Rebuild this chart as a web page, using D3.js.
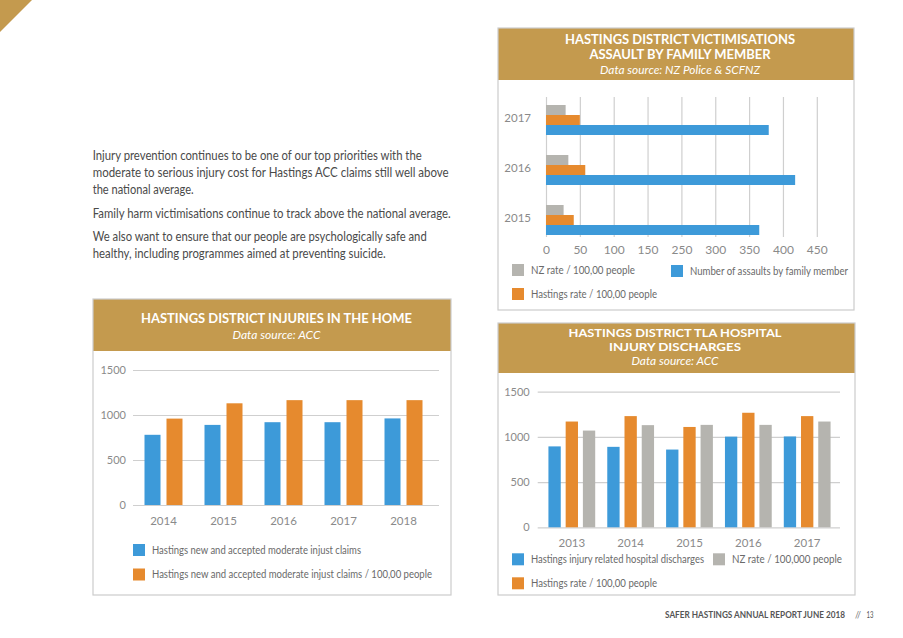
<!DOCTYPE html>
<html><head><meta charset="utf-8">
<script src="https://cdn.jsdelivr.net/npm/d3@7"></script>
<style>body{margin:0;background:#fff} svg{display:block;font-family:Lato,'Open Sans',sans-serif}</style>
</head><body><svg id="c" width="903" height="638"></svg>
<script>
// ---------- DATA ----------
const victYears = ["2017", "2016", "2015"];
const victNZRate = [29, 33, 26];
const victHastingsRate = [50, 58, 41];
const victAssaults = [379, 418, 365];
const victTicks = [0, 50, 100, 150, 250, 300, 350, 400, 450];

const homeYears = ["2014", "2015", "2016", "2017", "2018"];
const homeClaims = [780, 890, 920, 920, 962];
const homeClaimsRate = [960, 1130, 1165, 1165, 1165];
const homeTicks = [0, 500, 1000, 1500];

const hospYears = ["2013", "2014", "2015", "2016", "2017"];
const hospDischarges = [895, 890, 860, 1003, 1005];
const hospRate = [1170, 1230, 1110, 1267, 1230];
const hospNZRate = [1070, 1130, 1133, 1133, 1170];
const hospTicks = [0, 500, 1000, 1500];

const bodyLines = [
  ["Injury prevention continues to be one of our top priorities with the", 160, 329],
  ["moderate to serious injury cost for Hastings ACC claims still well above", 177, 356],
  ["the national average.", 194, 101],
  ["Family harm victimisations continue to track above the national average.", 218, 358],
  ["We also want to ensure that our people are psychologically safe and", 241, 334],
  ["healthy, including programmes aimed at preventing suicide.", 258, 293]
];

// ---------- STYLE ----------
const GOLD = "#C49A4E", BLUE = "#3D9AD9", ORANGE = "#E68A2E", GREY = "#B5B4AF";
const GRID = "#CFCFCF", AX = "#8a8a8a", LEG = "#6a6a6a", BORDER = "#cccccc";

const svg = d3.select("#c");

function text(x, y, s, o = {}) {
  const t = svg.append("text").attr("x", x).attr("y", y).text(s)
    .attr("font-size", o.size || 11).attr("fill", o.fill || LEG)
    .attr("text-anchor", o.anchor || "start");
  if (o.weight) t.attr("font-weight", o.weight);
  if (o.italic) t.attr("font-style", "italic");
  if (o.len) t.attr("textLength", o.len).attr("lengthAdjust", "spacingAndGlyphs");
  return t;
}

// corner triangle
svg.append("path").attr("d", "M0,0L32,0L0,32Z").attr("fill", GOLD);

// body text
bodyLines.forEach(([s, y, w]) => text(92.7, y, s, {size: 12.5, fill: "#4a4a4a", len: w}));

// footer
text(665, 618, "SAFER HASTINGS ANNUAL REPORT JUNE 2018", {size: 8.5, fill: "#555", weight: 700, len: 180});
text(855, 618, "//", {size: 8.5, fill: "#777", len: 6});
text(866.5, 618, "13", {size: 8.5, fill: "#555", len: 7});

function panel(x, y, w, h, hh, lines) {
  svg.append("rect").attr("x", x).attr("y", y).attr("width", w).attr("height", h).attr("fill", "#fff");
  svg.append("rect").attr("x", x).attr("y", y).attr("width", w).attr("height", hh).attr("fill", GOLD);
  svg.append("rect").attr("x", x).attr("y", y).attr("width", w).attr("height", h)
    .attr("fill", "none").attr("stroke", BORDER).attr("stroke-width", 1.2);
  lines.forEach(l => text(l.cx, l.y, l.s, {size: l.size, fill: "#fff", anchor: "middle",
    weight: l.italic ? null : 700, italic: l.italic, len: l.w}));
}

function legendItem(x, y, color, s, w) {
  svg.append("rect").attr("x", x).attr("y", y).attr("width", 12).attr("height", 12).attr("fill", color);
  text(x + 19, y + 9.5, s, {size: 10.5, fill: LEG, len: w});
}

function styleAxis(g, size) {
  g.select(".domain").remove();
  g.selectAll(".tick line").attr("stroke", GRID).attr("stroke-width", 1.2);
  g.selectAll(".tick text").attr("fill", AX).attr("font-size", size)
    .attr("font-family", "Lato,'Open Sans',sans-serif");
}

// ---------- PANEL 1: victimisations ----------
panel(498, 28, 356, 282, 52, [
  {cx: 680, y: 44, s: "HASTINGS DISTRICT VICTIMISATIONS", size: 12.5, w: 230},
  {cx: 680, y: 59, s: "ASSAULT BY FAMILY MEMBER", size: 12.5, w: 181},
  {cx: 680, y: 74, s: "Data source: NZ Police & SCFNZ", size: 12, italic: true, w: 160}
]);
{
  const st = 33.85, x0 = 546;
  const x = d3.scaleLinear().domain([0, 150, 250, 450]).range([x0, x0 + 3 * st, x0 + 4 * st, x0 + 8 * st]);
  const y = d3.scaleBand().domain(victYears).range([95, 245]).paddingInner(0.4).paddingOuter(0.2);
  const sub = d3.scaleBand().domain(["nz", "hast", "num"]).range([0, y.bandwidth()]);
  const gx = svg.append("g").attr("transform", "translate(0,237)")
    .call(d3.axisBottom(x).tickValues(victTicks).tickSize(-140).tickPadding(8.5).tickFormat(d3.format("d")));
  styleAxis(gx, 12);
  const gy = svg.append("g").attr("transform", `translate(${x0},-2)`)
    .call(d3.axisLeft(y).tickSize(0).tickPadding(15));
  styleAxis(gy, 11.5);
  const rows = victYears.map((yr, i) => ({yr, nz: victNZRate[i], hast: victHastingsRate[i], num: victAssaults[i]}));
  const colors = {nz: GREY, hast: ORANGE, num: BLUE};
  ["nz", "hast", "num"].forEach(k => {
    svg.append("g").selectAll("rect").data(rows).join("rect")
      .attr("x", x0).attr("y", d => y(d.yr) + sub(k))
      .attr("width", d => x(d[k]) - x0).attr("height", sub.bandwidth())
      .attr("fill", colors[k]);
  });
  legendItem(512, 264, GREY, "NZ rate / 100,00 people", 104);
  legendItem(671, 265, BLUE, "Number of assaults by family member", 158);
  legendItem(512, 288, ORANGE, "Hastings rate / 100,00 people", 126);
}

// ---------- PANEL 2: injuries in the home ----------
panel(93, 299, 358, 296, 52, [
  {cx: 276.5, y: 323, s: "HASTINGS DISTRICT INJURIES IN THE HOME", size: 12.5, w: 271},
  {cx: 276.5, y: 339, s: "Data source: ACC", size: 12, italic: true, w: 88}
]);
{
  const x = d3.scaleBand().domain(homeYears).range([133.5, 433.5]).paddingInner(0.3667).paddingOuter(0.1833);
  const y = d3.scaleLinear().domain([0, 1500]).range([505, 370]);
  const sub = d3.scaleBand().domain(["claims", "rate"]).range([0, x.bandwidth()]).paddingInner(0.2727);
  const gy = svg.append("g").attr("transform", "translate(133,0)")
    .call(d3.axisLeft(y).tickValues(homeTicks).tickSize(-306).tickPadding(7).tickFormat(d3.format("d")));
  styleAxis(gy, 11);
  const gx = svg.append("g").attr("transform", "translate(0,505)")
    .call(d3.axisBottom(x).tickSize(0).tickPadding(12));
  styleAxis(gx, 11.5);
  const rows = homeYears.map((yr, i) => ({yr, claims: homeClaims[i], rate: homeClaimsRate[i]}));
  const colors = {claims: BLUE, rate: ORANGE};
  ["claims", "rate"].forEach(k => {
    svg.append("g").selectAll("rect").data(rows).join("rect")
      .attr("x", d => x(d.yr) + sub(k)).attr("y", d => y(d[k]))
      .attr("width", sub.bandwidth()).attr("height", d => y(0) - y(d[k]))
      .attr("fill", colors[k]);
  });
  legendItem(133, 544, BLUE, "Hastings new and accepted moderate injust claims", 209);
  legendItem(133, 568.5, ORANGE, "Hastings new and accepted moderate injust claims / 100,00 people", 280);
}

// ---------- PANEL 3: hospital discharges ----------
panel(498, 323, 357, 272, 50, [
  {cx: 675, y: 337, s: "HASTINGS DISTRICT TLA HOSPITAL", size: 11.5, w: 213},
  {cx: 675, y: 350.5, s: "INJURY DISCHARGES", size: 11.5, w: 132},
  {cx: 675, y: 365, s: "Data source: ACC", size: 12, italic: true, w: 87}
]);
{
  const x = d3.scaleBand().domain(hospYears).range([542.4, 836.6]).paddingInner(0.205).paddingOuter(0.1025);
  const y = d3.scaleLinear().domain([0, 1500]).range([527.3, 391.7]);
  const sub = d3.scaleBand().domain(["dis", "rate", "nz"]).range([0, x.bandwidth()]).paddingInner(0.285);
  const gy = svg.append("g").attr("transform", "translate(537.7,0)")
    .call(d3.axisLeft(y).tickValues(hospTicks).tickSize(-302.3).tickPadding(8).tickFormat(d3.format("d")));
  styleAxis(gy, 11);
  const gx = svg.append("g").attr("transform", "translate(0,527.3)")
    .call(d3.axisBottom(x).tickSize(0).tickPadding(11.5));
  styleAxis(gx, 11.5);
  const rows = hospYears.map((yr, i) => ({yr, dis: hospDischarges[i], rate: hospRate[i], nz: hospNZRate[i]}));
  const colors = {dis: BLUE, rate: ORANGE, nz: GREY};
  ["dis", "rate", "nz"].forEach(k => {
    svg.append("g").selectAll("rect").data(rows).join("rect")
      .attr("x", d => x(d.yr) + sub(k)).attr("y", d => y(d[k]))
      .attr("width", sub.bandwidth()).attr("height", d => y(0) - y(d[k]))
      .attr("fill", colors[k]);
  });
  legendItem(512, 553.3, BLUE, "Hastings injury related hospital discharges", 173);
  legendItem(713, 553.3, GREY, "NZ rate / 100,000 people", 110);
  legendItem(512, 577.3, ORANGE, "Hastings rate / 100,00 people", 126);
}
</script></body></html>
